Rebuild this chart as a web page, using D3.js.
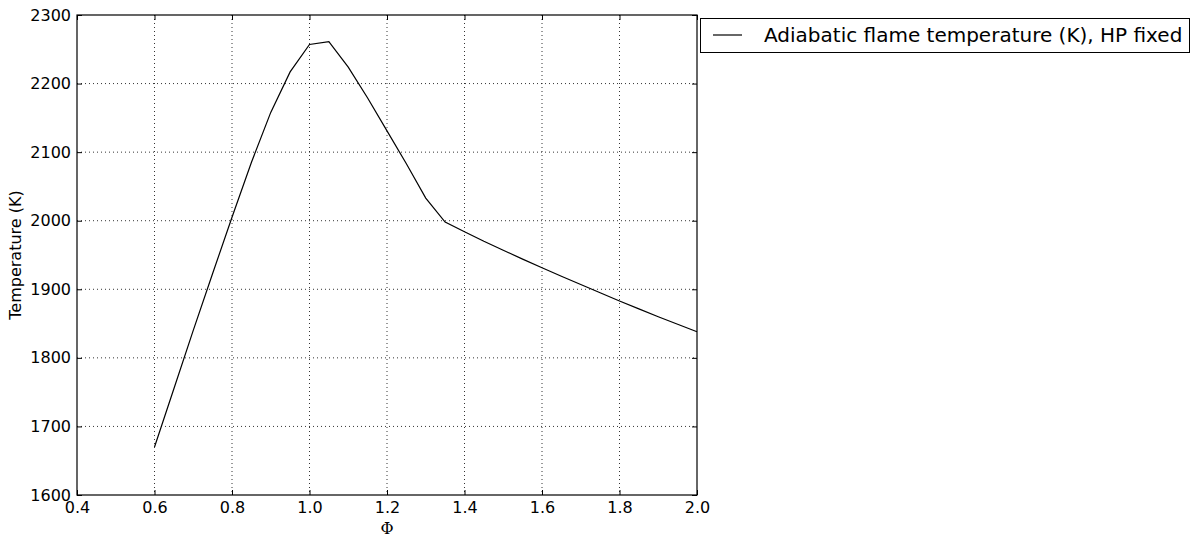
<!DOCTYPE html>
<html><head><meta charset="utf-8">
<script src="https://cdn.jsdelivr.net/npm/d3@7"></script>
<style>body{margin:0;background:#fff}svg{display:block}</style>
</head><body>
<script>
const phi = [0.6,0.65,0.7,0.75,0.8,0.85,0.9,0.95,1.0,1.05,1.1,1.15,1.2,1.25,1.3,1.35,1.4,1.45,1.5,1.55,1.6,1.65,1.7,1.75,1.8,1.85,1.9,1.95,2.0];
const temperature = [1670,1755,1840,1923,2005,2085,2158,2217,2257,2261,2224,2179,2131,2083,2033,1998,1984,1970,1957,1944,1931.5,1919,1907,1895,1883,1871.5,1860,1849,1838];
const xTicks = [0.4,0.6,0.8,1.0,1.2,1.4,1.6,1.8,2.0];
const yTicks = [1600,1700,1800,1900,2000,2100,2200,2300];
const seriesName = "Adiabatic flame temperature (K), HP fixed";

const W=1200,H=546;
const L=77,R=697,T=15,B=495;
const svg=d3.select("body").append("svg").attr("width",W).attr("height",H);
const x=d3.scaleLinear().domain([0.4,2.0]).range([L,R]);
const y=d3.scaleLinear().domain([1600,2300]).range([B,T]);
const font="DejaVu Sans, sans-serif";

// grid
const g=svg.append("g");
g.selectAll(".gx").data(xTicks.slice(1,-1)).join("line")
 .attr("x1",d=>x(d)).attr("x2",d=>x(d)).attr("y1",T).attr("y2",B)
 .attr("stroke","#000").attr("stroke-width",0.8).attr("stroke-dasharray","1,3");
g.selectAll(".gy").data(yTicks.slice(1,-1)).join("line")
 .attr("y1",d=>y(d)).attr("y2",d=>y(d)).attr("x1",L).attr("x2",R)
 .attr("stroke","#000").attr("stroke-width",0.8).attr("stroke-dasharray","1,3");

// line
svg.append("path").datum(phi.map((p,i)=>[p,temperature[i]]))
 .attr("d",d3.line().x(d=>x(d[0])).y(d=>y(d[1])))
 .attr("fill","none").attr("stroke","#000").attr("stroke-width",1.2);

// axes (ticks inward)
const fmtX=d3.format(".1f");
const ax=[
 svg.append("g").attr("transform",`translate(0,${B})`).call(d3.axisBottom(x).tickValues(xTicks).tickFormat(fmtX).tickSizeInner(-5).tickSizeOuter(0).tickPadding(7)),
 svg.append("g").attr("transform",`translate(0,${T})`).call(d3.axisTop(x).tickValues(xTicks).tickFormat("").tickSizeInner(-5).tickSizeOuter(0)),
 svg.append("g").attr("transform",`translate(${L},0)`).call(d3.axisLeft(y).tickValues(yTicks).tickFormat(d3.format("d")).tickSizeInner(-5).tickSizeOuter(0).tickPadding(6)),
 svg.append("g").attr("transform",`translate(${R},0)`).call(d3.axisRight(y).tickValues(yTicks).tickFormat("").tickSizeInner(-5).tickSizeOuter(0))
];
ax.forEach(a=>{a.select(".domain").remove();
 a.selectAll("text").attr("font-family",font).attr("font-size",16).attr("fill","#000");
 a.selectAll("line").attr("stroke","#000");});
svg.append("rect").attr("x",L).attr("y",T).attr("width",R-L).attr("height",B-T)
 .attr("fill","none").attr("stroke","#000").attr("stroke-width",1.2);

// labels
svg.append("text").attr("x",(L+R)/2).attr("y",534).attr("text-anchor","middle")
 .attr("font-family","DejaVu Serif, serif").attr("font-size",16).text("Φ");
svg.append("text").attr("transform",`translate(21,${(T+B)/2}) rotate(-90)`).attr("text-anchor","middle")
 .attr("font-family",font).attr("font-size",16).text("Temperature (K)");

// legend
const lg=svg.append("g");
lg.append("rect").attr("x",700.5).attr("y",18.5).attr("width",489).attr("height",34)
 .attr("fill","#fff").attr("stroke","#000").attr("stroke-width",1);
lg.append("line").attr("x1",713).attr("x2",742).attr("y1",35).attr("y2",35).attr("stroke","#000").attr("stroke-width",1.2);
lg.append("text").attr("x",764).attr("y",42).attr("font-family",font).attr("font-size",20).text(seriesName);
</script>
</body></html>
